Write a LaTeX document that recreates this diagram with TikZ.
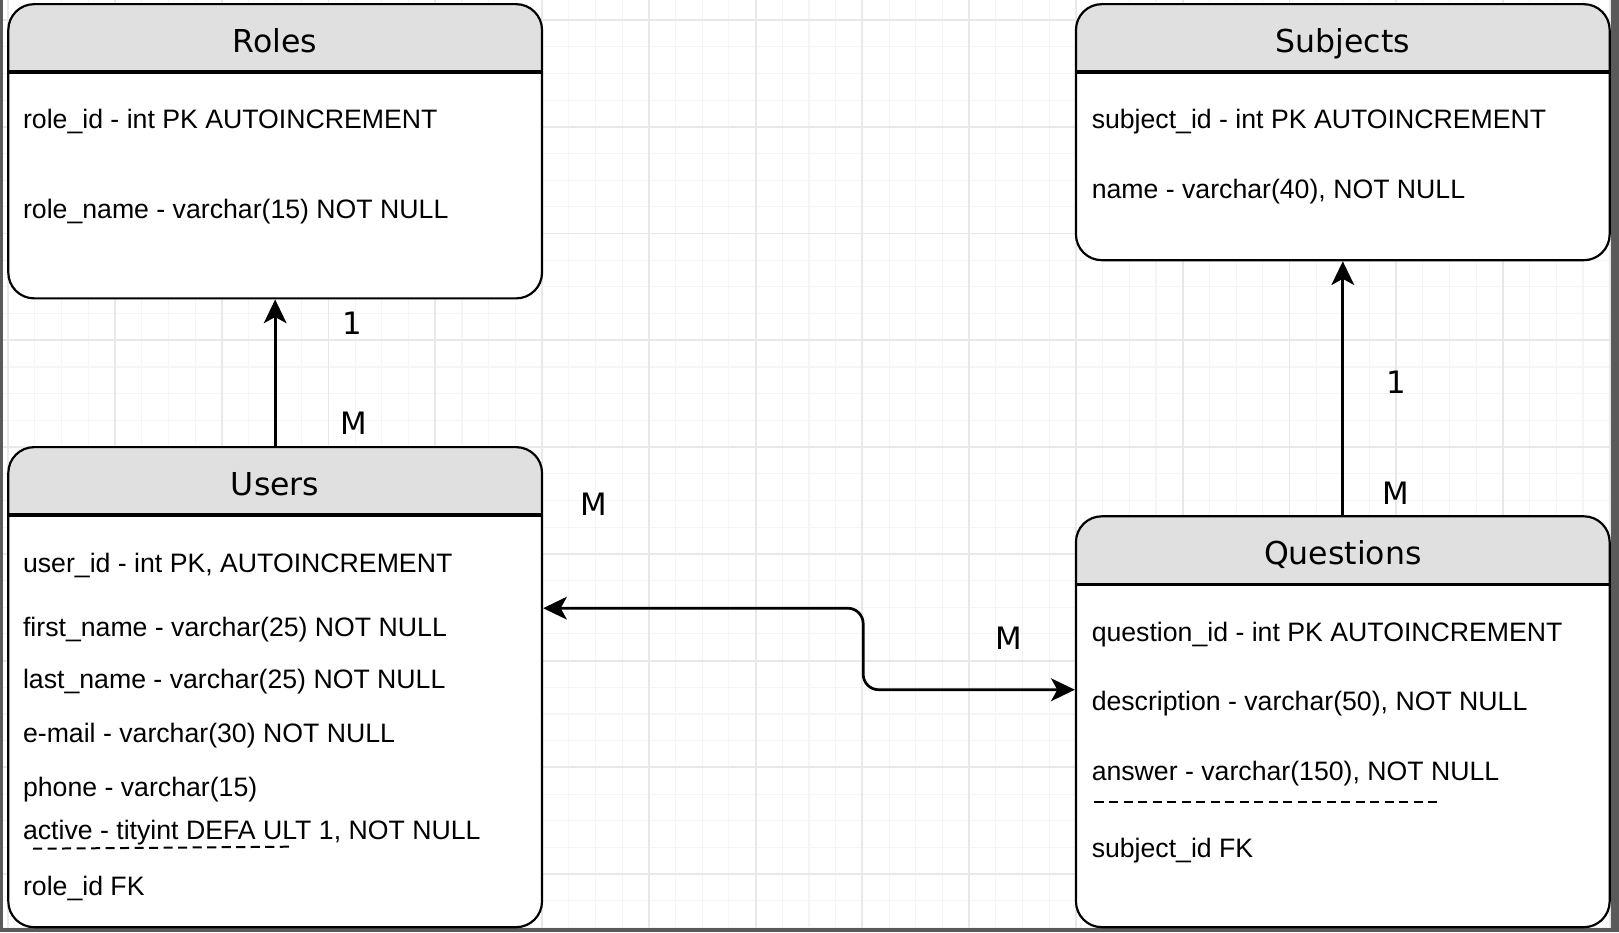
\documentclass[tikz,border=0pt]{standalone}
\usepackage{fontspec}
\setmainfont{Liberation Sans}
\newfontfamily\titlefont{DejaVu Sans}
\usetikzlibrary{arrows.meta}
\definecolor{hdr}{HTML}{E0E0E0}
\definecolor{gridmin}{HTML}{F5F5F5}
\definecolor{gridmaj}{HTML}{E8E8E8}
\definecolor{frame}{HTML}{5A5A5A}
\tikzset{>={Stealth[length=0.46cm,width=0.44cm,inset=0.12cm]}}

\begin{document}
\begin{tikzpicture}[x=0.02cm, y=-0.02cm,
  tbl/.style={draw, line width=1.2pt, rounded corners=0.5cm, fill=white,
    minimum width=10.34cm, inner sep=0pt,
    path picture={\fill[hdr, sharp corners] (path picture bounding box.north west)
      rectangle ([yshift=-1.34cm]path picture bounding box.north east);}},
  ttl/.style={font=\titlefont\fontsize{17.4}{20}\selectfont, inner sep=0pt,
    text height=12.7pt, text depth=0pt},
  fld/.style={anchor=base west, inner sep=0pt, font=\fontsize{14.7}{17}\selectfont},
  card/.style={anchor=base, inner sep=0pt, font=\titlefont\fontsize{17}{20}\selectfont},
  link/.style={line width=1.5pt},
  sep/.style={line width=1.1pt, dash pattern=on 5pt off 3pt}]
\useasboundingbox (0,0) rectangle (1568,903);

% background grid
\foreach \k in {0,...,60} {\pgfmathsetmacro\gx{8+25.85*\k}
  \draw[gridmin, line width=0.6pt] (\gx,0) -- (\gx,899);}
\foreach \k in {0,...,34} {\pgfmathsetmacro\gy{19.4+25.85*\k}
  \draw[gridmin, line width=0.6pt] (3,\gy) -- (1560,\gy);}
\foreach \k in {0,...,15} {\pgfmathsetmacro\gx{8+103.4*\k}
  \draw[gridmaj, line width=1pt] (\gx,0) -- (\gx,899);}
\foreach \k in {0,...,8} {\pgfmathsetmacro\gy{19.4+103.4*\k}
  \draw[gridmaj, line width=1pt] (3,\gy) -- (1560,\gy);}
\fill[frame] (0,0) rectangle (3,903);
\fill[frame] (1560,0) rectangle (1568,903);
\fill[frame] (0,899) rectangle (1568,903);

% tables
\node[tbl, minimum height=5.7cm] (roles) at (266.5,146.5) {};
\node[tbl, minimum height=4.96cm] (subjects) at (1300.5,128) {};
\node[tbl, minimum height=9.3cm] (users) at (266.5,665.5) {};
\node[tbl, minimum height=7.96cm] (questions) at (1300.5,699) {};
\foreach \t in {roles,subjects,users,questions}
  \draw[line width=2pt] ([yshift=-1.34cm]\t.north west) -- ([yshift=-1.34cm]\t.north east);

\node[ttl] (roles-title) at ([yshift=-0.73cm]roles.north) {Roles};
\node[ttl] (subjects-title) at ([yshift=-0.73cm]subjects.north) {Subjects};
\node[ttl] (users-title) at ([yshift=-0.73cm]users.north) {Users};
\node[ttl] (questions-title) at ([yshift=-0.73cm]questions.north) {Questions};

% fields
\node[fld] (role-1) at (22,124) {role\_id - int PK AUTOINCREMENT};
\node[fld] (role-2) at (22,212) {role\_name - varchar(15) NOT NULL};
\node[fld] (subject-1) at (1057,124) {subject\_id - int PK AUTOINCREMENT};
\node[fld] (subject-2) at (1057,192) {name - varchar(40), NOT NULL};
\foreach \n/\y/\txt in {1/554/{user\_id - int PK, AUTOINCREMENT},
    2/616/{first\_name - varchar(25) NOT NULL},
    3/667/{last\_name - varchar(25) NOT NULL},
    4/719/{e-mail - varchar(30) NOT NULL},
    5/771/{phone - varchar(15)},
    6/813/{active - tityint DEFA ULT 1, NOT NULL},
    7/867/{role\_id FK}}
  \node[fld] (user-\n) at (22,\y) {\txt};
\foreach \n/\y/\txt in {1/621/{question\_id - int PK AUTOINCREMENT},
    2/688/{description - varchar(50), NOT NULL},
    3/756/{answer - varchar(150), NOT NULL},
    4/830/{subject\_id FK}}
  \node[fld] (question-\n) at (1057,\y) {\txt};
\draw[sep] (32,822) -- (282,820);
\draw[sep] (1060,777) -- (1392,777);

% relations
\draw[link,->] (users.north) -- (roles.south);
\draw[link,->] (questions.north) -- (subjects.south);
\draw[link,<->, rounded corners=0.3cm] ([yshift=1.53cm]users.east) -- ++(310,0)
  |- ([yshift=0.62cm]questions.west);

\node[card] (card-r1) at (341,324) {1};
\node[card] (card-rm) at (343,421) {M};
\node[card] (card-s1) at (1352,381) {1};
\node[card] (card-sm) at (1352,489) {M};
\node[card] (card-um) at (575,499) {M};
\node[card] (card-qm) at (977,629) {M};
\end{tikzpicture}
\end{document}
